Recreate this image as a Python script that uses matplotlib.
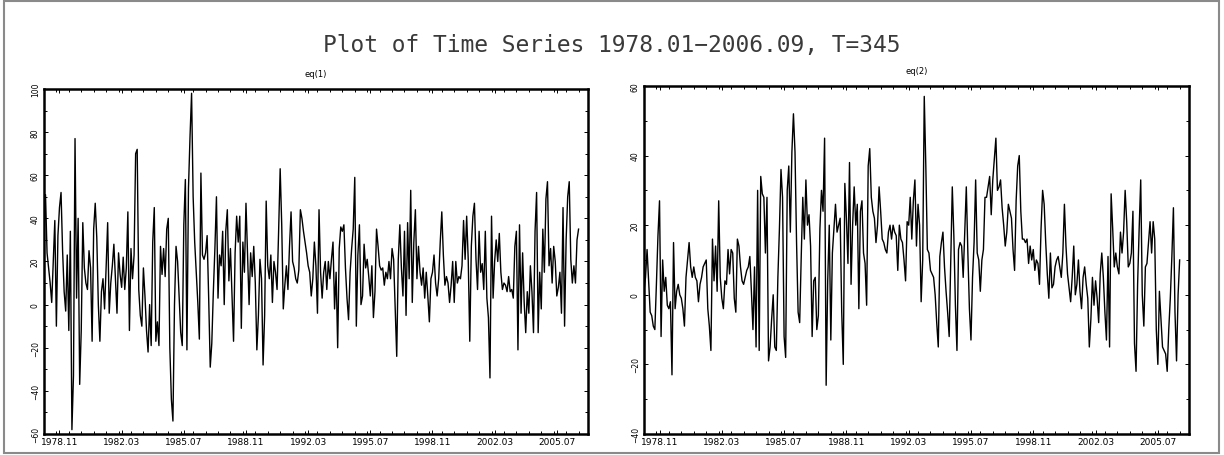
import matplotlib.pyplot as plt
from matplotlib.ticker import MultipleLocator, FixedLocator

# monthly series, 1978.01 - 2006.09
eq1 = [30, 51, 24, 17, 10, 1, 20, 39, -10, 32,
       45, 52, 25, 6, -3, 23, -12, 34, -58, -33,
       77, 3, 40, -37, -12, 38, 17, 10, 7, 25,
       17, -17, 35, 47, 31, 0, -17, 6, 12, -2,
       17, 38, -4, 10, 18, 28, 12, -4, 24, 14,
       8, 22, 7, 17, 43, -12, 26, 12, 23, 70,
       72, 7, -5, -10, 17, 4, -12, -22, 0, -19,
       29, 45, -17, -8, -19, 27, 14, 26, 13, 35,
       40, -20, -44, -54, 0,
       27, 20, 4, -13, -19, 37, 58, -21, 54, 78,
       98, 50, 29, 15, 1, -16, 61, 23, 21, 24,
       32, 3, -29, -18, 6, 26, 50, 3, 23, 18,
       34, 0, 34, 44, 11, 26, 4, -17, 24, 41,
       29, 41, -11, 29, 15, 47, 24, 0, 24, 13,
       27, 10, -21, -5, 21, 12, -28, -5, 48, 18,
       12, 23, 1, 20, 15, 7, 34, 63, 37, -2,
       9, 18, 7, 27, 43, 20, 17, 12, 10, 16,
       44, 40, 34, 29, 24, 18,
       15, 4, 12, 29, 18, -4, 44, 15, 3, 15,
       20, 7, 20, 12, 21, 29, -2, 15, -20, 26,
       36, 34, 37, 17, 3, -7, 15, 26, 35, 59,
       -10, 23, 37, 0, 4, 28, 17, 21, 13, 4,
       18, -6, 6, 35, 27, 18, 16, 17, 9, 15,
       12, 20, 12, 26, 21, -2, -24, 21, 37, 17,
       4, 34, -5, 38, 12, 53, 1, 29, 44, 12,
       27, 15, 9, 17, 3, 15, 4, -8, 12, 15,
       23, 10, 4, 12, 29, 43, 23, 9, 13, 10,
       1, 9, 20, 1, 20, 10, 13, 12, 18, 39,
       21, 41, 21, -17, 27, 41, 47, 21, 7, 34,
       15, 19, 7, 34, 3, -6, -34, 41, 3, 20,
       30, 20, 33, 15, 7, 10, 9, 6, 13, 6,
       7, 3, 27, 34, -21, 37, -4, 24, 1, -13,
       6, -4, 18, 6, -13, 34, 52, -13, 15, -2,
       35, 15, 49, 57, 18, 26, 10, 27, 20, 4,
       8, 15, -4, 45, -10, 30, 50, 57, 21, 10,
       18, 10, 30, 35]

eq2 = [1, 5, 13, 4, -5, -6, -9, -10, 3, 17,
       27, -12, 10, 1, 5, -3, -4, -2, -23, 15,
       -4, 1, 3, 0, -1, -4, -9, 5, 10, 15,
       8, 5, 8, 5, 4, -2, 3, 5, 8, 9,
       10, -4, -9, -16, 16, 4, 14, 1, 27, 5,
       -1, -4, 4, 3, 13, 6, 13, 12, -1, -5,
       16, 14, 8, 4, 3, 5, 7, 8, 11, 1,
       -10, 8, -15, 30, -16, 34, 29, 28, 12, 28,
       -19, -15, -7, 0, -15, -16, 5,
       19, 36, 28, -12, -18, 30, 37, 18, 41, 52,
       41, 15, -5, -8, 11, 28, 16, 33, 20, 23,
       14, -12, 4, 5, -10, -6, 19, 30, 24, 45,
       -26, 4, 20, -13, 12, 19, 26, 18, 20, 22,
       -5, -20, 32, 22, 9, 38, 3, 20, 31, 20,
       26, -4, 24, 27, 12, 9, -3, 37, 42, 28,
       24, 22, 15, 20, 31, 24, 16, 15, 13, 12,
       18, 20, 16, 20, 18, 17, 7, 20, 16, 15,
       10, 4, 21, 20, 28, 16, 27, 33, 14, 26,
       20, -2, 10, 57,
       37, 13, 12, 7, 6, 5, 0, -8, -15, 11,
       15, 18, 8, 1, -5, -12, 9, 31, 17, -3,
       -16, 13, 15, 14, 5, 18, 31, 12, -4, -13,
       5, 15, 33, 12, 10, 1, 10, 13, 28, 28,
       31, 34, 23, 33, 39, 45, 30, 31, 33, 25,
       20, 14, 18, 26, 24, 22, 13, 7, 27, 37,
       40, 24, 16, 16, 15, 16, 9, 14, 10, 13,
       7, 10, 9, 3, 19, 30, 26, 15, 6, -1,
       12, 2, 3, 8, 10, 11, 8, 5, 12, 26,
       14, 6, 2, -2, 5, 14, 0, 3, 10, 1,
       -4, 5, 8, 3, -1, -15, -7, 5, -3, 4,
       -1, -8, 6, 12, 5, -5, -13, 11, -15, 29,
       19, 8, 12, 8, 6, 18, 12, 18, 30, 21,
       8, 9, 12, 24, -14, -22, 3, 19, 33, 0,
       -9, 8, 9, 15, 21, 12, 21, 16, -10, -20,
       1, -7, -15, -16, -17, -22, -10, -1, 11, 25,
       -5, -19, 0, 10]

start_year = 1978
tick_idx = list(range(10, 345, 40))
tick_lab = [f"{start_year + k // 12}.{k % 12 + 1:02d}" for k in tick_idx]

fig = plt.figure(figsize=(12.24, 4.56), dpi=100)
fig.add_artist(plt.Rectangle((0.003, 0.005), 0.993, 0.99, transform=fig.transFigure,
                             fill=False, ec='#8a8a8a', lw=1.5))

fig.text(0.5, 0.90, "Plot of Time Series 1978.01\u22122006.09, T=345",
         ha='center', va='center', family='DejaVu Sans Mono', fontsize=16.5, color='#3a3a3a')

ax_1 = fig.add_axes([0.0359, 0.0461, 0.4444, 0.7566])
ax_2 = fig.add_axes([0.5261, 0.0461, 0.4453, 0.7632])

for ax, data, title, ylo, yhi in [(ax_1, eq1, "eq(1)", -60, 100),
                                   (ax_2, eq2, "eq(2)", -40, 60)]:
    ax.plot(range(len(data)), data, color='black', linewidth=1.0)
    ax.set_xlim(0, 350)
    ax.set_ylim(ylo, yhi)
    ax.set_title(title, fontsize=6, pad=9)
    for s in ax.spines.values():
        s.set_linewidth(1.8)
    ax.xaxis.set_major_locator(FixedLocator(tick_idx))
    ax.set_xticklabels(tick_lab)
    ax.xaxis.set_minor_locator(MultipleLocator(8))
    ax.yaxis.set_major_locator(MultipleLocator(20))
    ax.yaxis.set_minor_locator(MultipleLocator(10))
    ax.tick_params(which='both', direction='in', top=True, right=True, width=0.7)
    ax.tick_params(which='major', length=3)
    ax.tick_params(which='minor', length=2)
    ax.tick_params(axis='x', labelsize=6.5, pad=2)
    ax.tick_params(axis='y', labelsize=5.5, labelrotation=90, pad=3)
    for lab in ax.get_yticklabels():
        lab.set_va('center')

fig.savefig('out.png', dpi=100)
